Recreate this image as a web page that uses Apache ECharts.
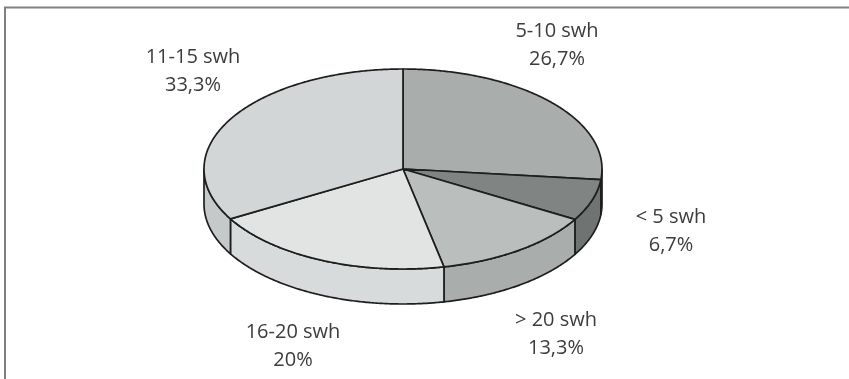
<!DOCTYPE html>
<html>
<head>
<meta charset="utf-8">
<script src="https://cdn.jsdelivr.net/npm/echarts@6/dist/echarts.min.js"></script>
<style>
  html, body { margin: 0; padding: 0; background: #ffffff; }
  #chart { width: 849px; height: 379px; }
</style>
</head>
<body>
<div id="chart"></div>
<script>
// Slices, clockwise from 12 o'clock
const categories = ['5-10 swh', '< 5 swh', '> 20 swh', '16-20 swh', '11-15 swh'];
const shares = [26.7, 6.7, 13.3, 20, 33.3];

// Styling per slice: lit top face and darker rim
const topColors  = ['#a9adac', '#808583', '#babebd', '#e2e4e4', '#d3d6d6'];
const sideColors = ['#9a9e9d', '#6f7472', '#a9adac', '#d8dbdb', '#c6c9c9'];
// Label centre relative to the pie centre
const labelOffsets = [[154, -124], [268, 62], [153, 165], [-110, 177], [-210, -98]];

// Tilted-disc geometry
const PIE = { cx: 403, cy: 169, rx: 199, ry: 100, depth: 35 };
const EDGE = '#1e1e1e';

const fmtShare = v => String(v).replace('.', ',') + '%';

function ellipsePoint(deg, dy) {
  const r = deg * Math.PI / 180;
  return [PIE.cx + PIE.rx * Math.sin(r), PIE.cy - PIE.ry * Math.cos(r) + (dy || 0)];
}
function arcPoints(s, e, dy) {
  const n = Math.max(2, Math.ceil(Math.abs(e - s) * 2));
  const out = [];
  for (let j = 0; j <= n; j++) out.push(ellipsePoint(s + (e - s) * j / n, dy));
  return out;
}

function renderSlice(params, api) {
  const i = params.dataIndex;
  const total = shares.reduce((a, b) => a + b, 0);
  let before = 0;
  for (let k = 0; k < i; k++) before += shares[k];
  const a0 = before / total * 360;
  const a1 = (before + api.value(0)) / total * 360;
  const children = [];

  // Front rim: only the part facing the viewer (lower half of the ellipse)
  const w0 = Math.max(a0, 90), w1 = Math.min(a1, 270);
  if (w1 > w0) {
    const pts = arcPoints(w0, w1, 0).concat(arcPoints(w1, w0, PIE.depth));
    children.push({
      type: 'polygon', z2: 1,
      shape: { points: pts },
      style: { fill: sideColors[i], stroke: EDGE, lineWidth: 1.7, lineJoin: 'round' }
    });
  }

  // Top face wedge
  const topPts = [[PIE.cx, PIE.cy]].concat(arcPoints(a0, a1, 0));
  children.push({
    type: 'polygon', z2: 5,
    shape: { points: topPts },
    style: { fill: topColors[i], stroke: EDGE, lineWidth: 1.7, lineJoin: 'round' }
  });

  // Category + share label
  children.push({
    type: 'text', z2: 10,
    x: PIE.cx + labelOffsets[i][0],
    y: PIE.cy + labelOffsets[i][1],
    style: {
      text: categories[i] + '\n' + fmtShare(api.value(0)),
      fill: '#3c3c3c',
      font: '20px "Open Sans", sans-serif',
      lineHeight: 28,
      align: 'center',
      verticalAlign: 'middle'
    }
  });

  return { type: 'group', children };
}

const chart = echarts.init(document.getElementById('chart'), null, { renderer: 'canvas' });
chart.setOption({
  animation: false,
  backgroundColor: '#ffffff',
  graphic: [{
    type: 'rect',
    shape: { x: 5, y: 7.5, width: 900, height: 420 },
    style: { fill: 'none', stroke: '#808080', lineWidth: 2 },
    silent: true
  }],
  series: [{
    type: 'custom',
    coordinateSystem: 'none',
    renderItem: renderSlice,
    data: shares.map(v => [v])
  }]
});
</script>
</body>
</html>
